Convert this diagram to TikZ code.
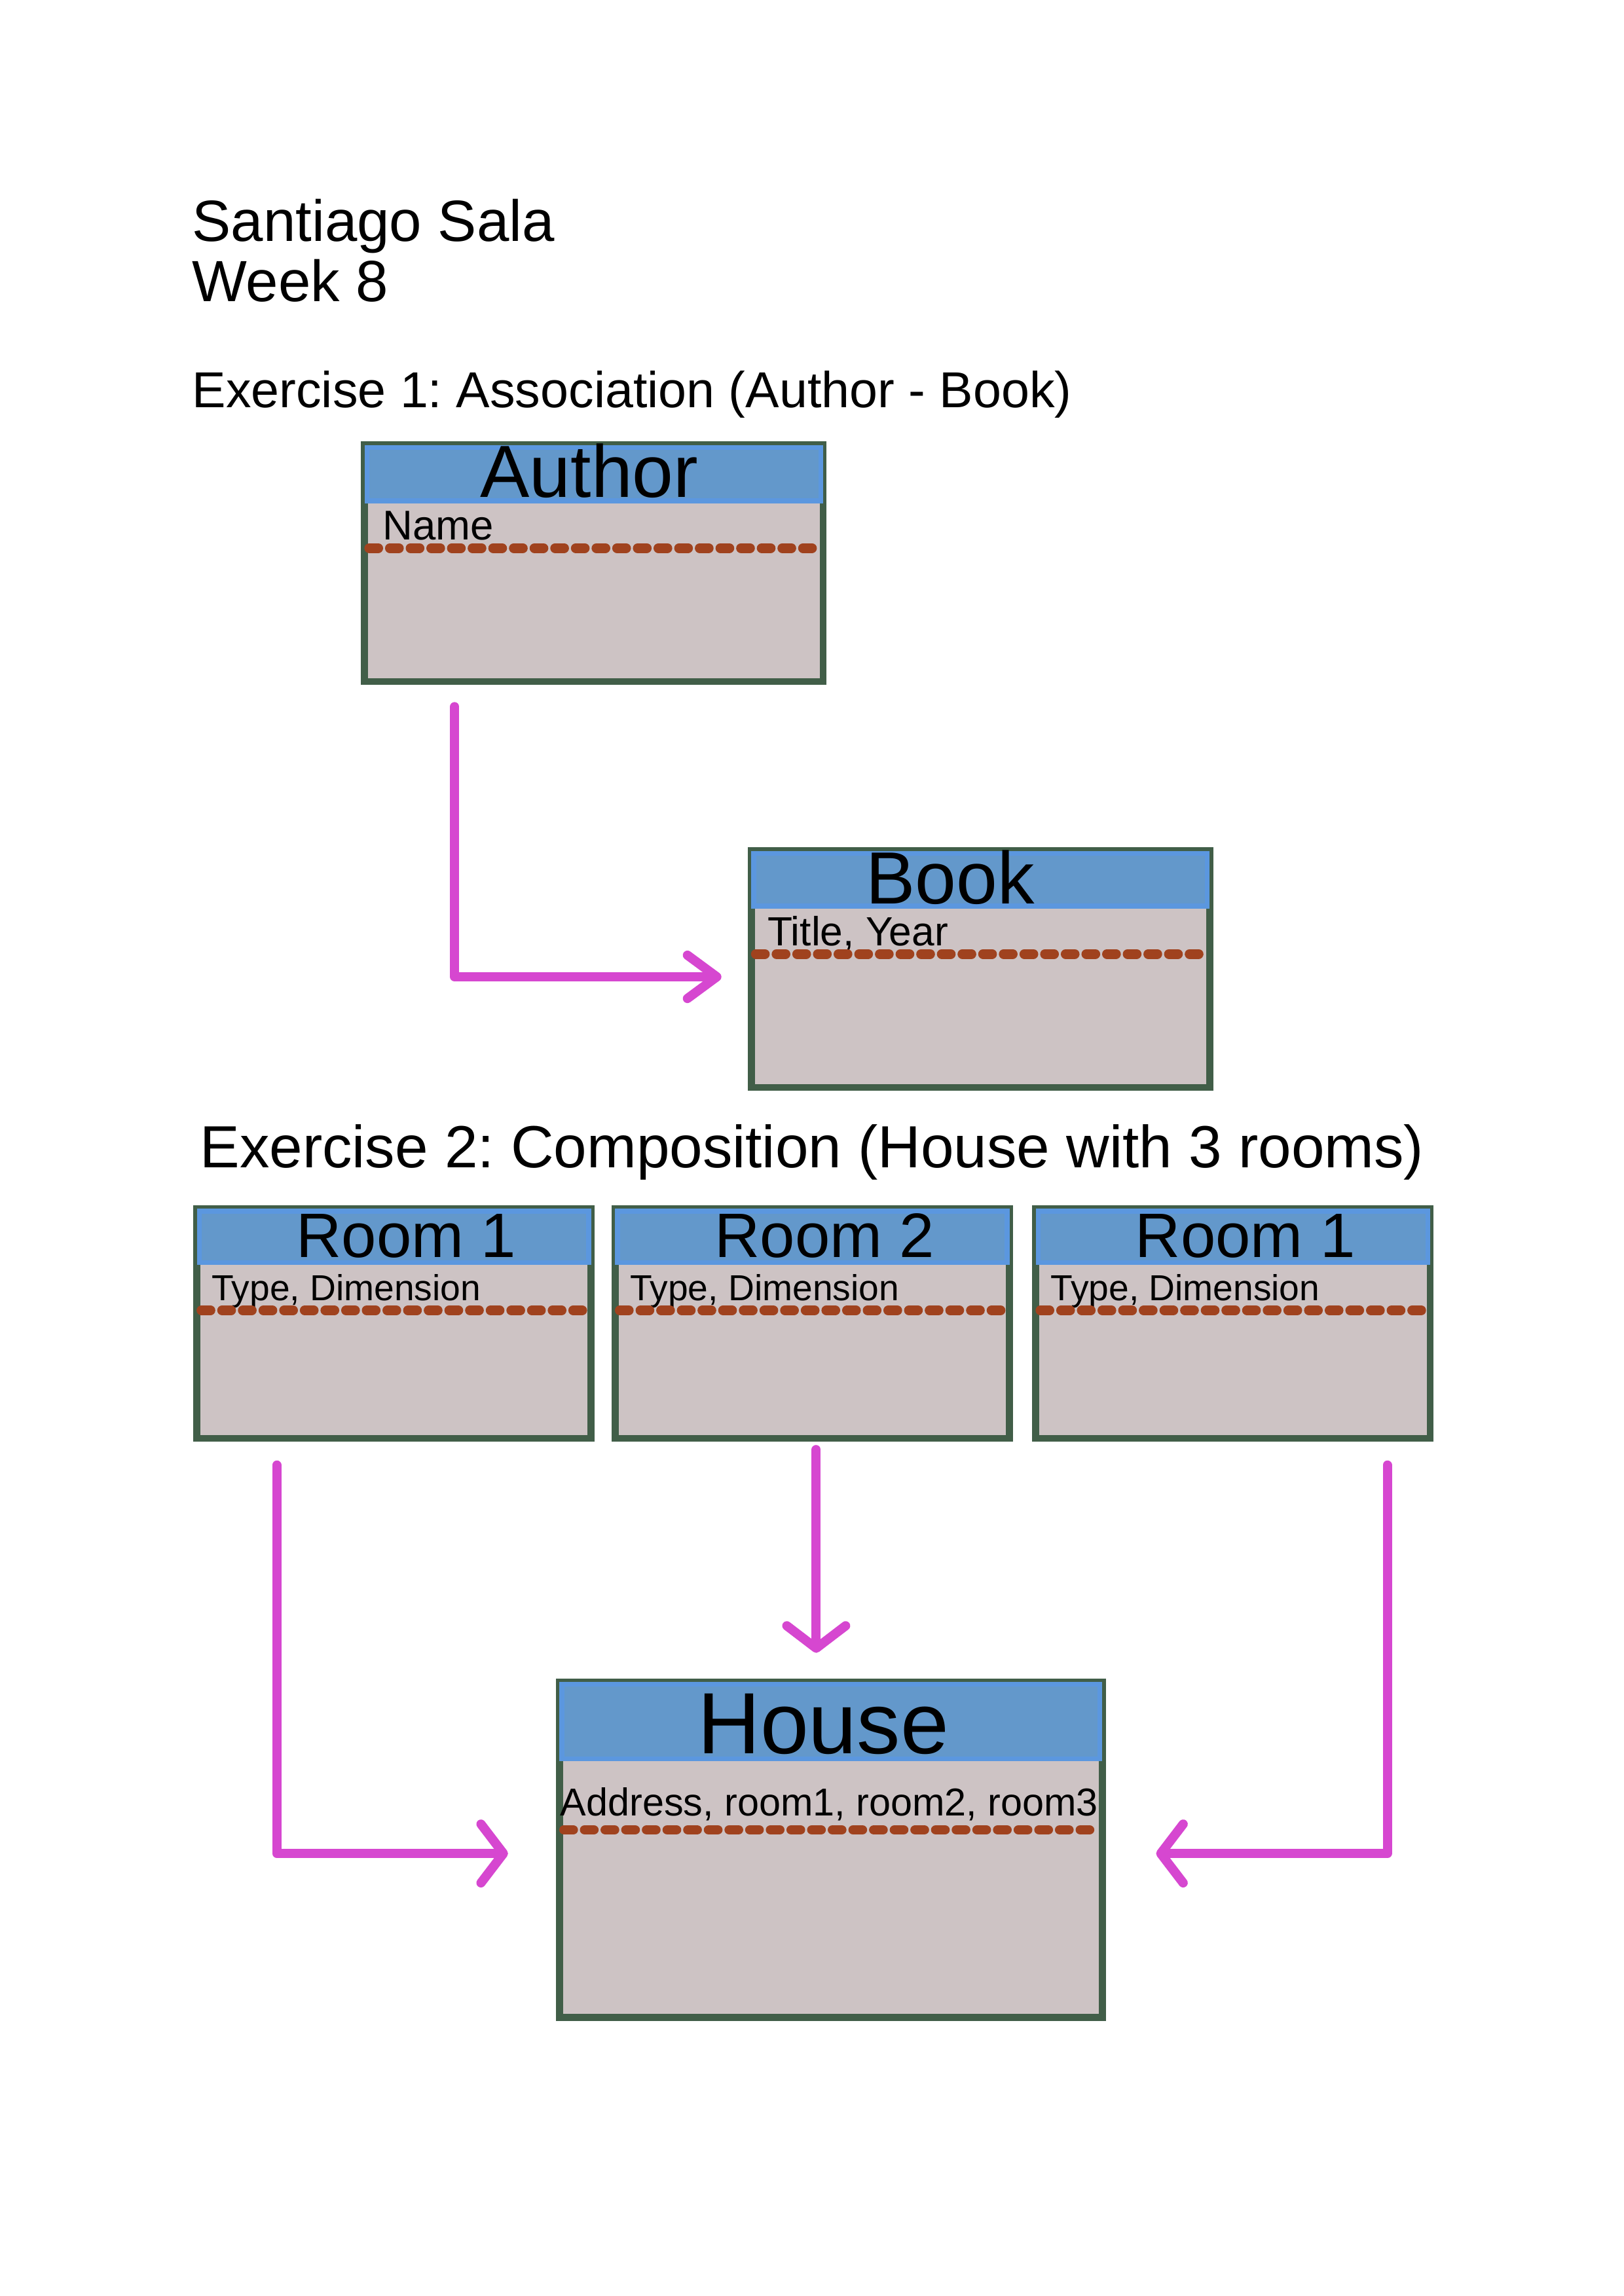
\documentclass[tikz,border=0pt]{standalone}
\usepackage{fontspec}
\setmainfont{Liberation Sans}
\frenchspacing
\usetikzlibrary{arrows.meta}
\definecolor{boxline}{RGB}{65,94,72}
\definecolor{headfill}{RGB}{99,152,203}
\definecolor{headedge}{RGB}{91,151,223}
\definecolor{bodyfill}{RGB}{205,195,196}
\definecolor{dashcol}{RGB}{160,66,30}
\definecolor{linkcol}{RGB}{214,71,208}

\begin{document}
\begin{tikzpicture}[
    txt/.style={inner sep=0pt},
    classbox/.style={draw=boxline, fill=bodyfill, line width=2.6pt, inner sep=0pt, anchor=north west},
    headbar/.style={fill=headfill, draw=headedge, line width=1.8pt},
    sepline/.style={draw=dashcol, line width=3.6pt, line cap=round, dash pattern=on 3.3pt off 4.3pt, shorten <=3pt, shorten >=3pt},
    link/.style={draw=linkcol, line width=3.4pt, line cap=round, line join=round, -{Straight Barb[length=2.9mm,width=7.6mm,round]}}]
    \useasboundingbox (0,0) rectangle (21,-29.7);

    \node[txt, anchor=base west, font=\fontsize{21.4}{22}\selectfont] (name) at (2.48,-3.12) {Santiago Sala};
    \node[txt, anchor=base west, font=\fontsize{21.4}{22}\selectfont] (week) at (2.48,-3.90) {Week 8};
    \node[txt, anchor=base west, font=\fontsize{18.6}{19}\selectfont] (ex1) at (2.48,-5.27) {Exercise 1: Association (Author - Book)};

    % Author
    \node[classbox, minimum width=5.93cm, minimum height=3.06cm] (author) at (4.67,-5.71) {};
    \draw[headbar] ([shift={(2.2pt,-2.2pt)}]author.north west) rectangle ([shift={(-2.2pt,-0.77cm)}]author.north east);
    \node[txt, anchor=base, font=\fontsize{27.2}{28}\selectfont] (authorT) at ([xshift=-0.06cm,yshift=-0.72cm]author.north) {Author};
    \node[txt, anchor=base west, font=\fontsize{15.3}{16}\selectfont] (authorA) at ([xshift=0.27cm,yshift=-1.27cm]author.north west) {Name};
    \draw[sepline] ([yshift=-1.38cm]author.north west) -- ([yshift=-1.38cm]author.north east);

    % Book
    \node[classbox, minimum width=5.93cm, minimum height=3.06cm] (book) at (9.67,-10.96) {};
    \draw[headbar] ([shift={(2.2pt,-2.2pt)}]book.north west) rectangle ([shift={(-2.2pt,-0.76cm)}]book.north east);
    \node[txt, anchor=base, font=\fontsize{27.2}{28}\selectfont] (bookT) at ([xshift=-0.39cm,yshift=-0.73cm]book.north) {Book};
    \node[txt, anchor=base west, font=\fontsize{15}{16}\selectfont] (bookA) at ([xshift=0.25cm,yshift=-1.27cm]book.north west) {Title, Year};
    \draw[sepline] ([yshift=-1.38cm]book.north west) -- ([yshift=-1.38cm]book.north east);

    \draw[link, -{Straight Barb[length=3.8mm,width=5.6mm,round]}] ([xshift=1.21cm,yshift=-0.28cm]author.south west) |- ([xshift=-0.34cm,yshift=-0.10cm]book.west);

    \node[txt, anchor=base west, font=\fontsize{21.9}{22}\selectfont] (ex2) at (2.58,-15.10) {Exercise 2: Composition (House with 3 rooms)};

    % Rooms
    \node[classbox, minimum width=5.10cm, minimum height=2.97cm] (room1) at (2.50,-15.59) {};
    \draw[headbar] ([shift={(2.2pt,-2.2pt)}]room1.north west) rectangle ([shift={(-2.2pt,-0.74cm)}]room1.north east);
    \node[txt, anchor=base, font=\fontsize{23.1}{24}\selectfont] (room1T) at ([xshift=0.16cm,yshift=-0.67cm]room1.north) {Room 1};
    \node[txt, anchor=base west, font=\fontsize{13.3}{14}\selectfont] (room1A) at ([xshift=0.23cm,yshift=-1.23cm]room1.north west) {Type, Dimension};
    \draw[sepline] ([yshift=-1.36cm]room1.north west) -- ([yshift=-1.36cm]room1.north east);

    \node[classbox, minimum width=5.10cm, minimum height=2.97cm] (room2) at (7.91,-15.59) {};
    \draw[headbar] ([shift={(2.2pt,-2.2pt)}]room2.north west) rectangle ([shift={(-2.2pt,-0.74cm)}]room2.north east);
    \node[txt, anchor=base, font=\fontsize{23.1}{24}\selectfont] (room2T) at ([xshift=0.16cm,yshift=-0.67cm]room2.north) {Room 2};
    \node[txt, anchor=base west, font=\fontsize{13.3}{14}\selectfont] (room2A) at ([xshift=0.23cm,yshift=-1.23cm]room2.north west) {Type, Dimension};
    \draw[sepline] ([yshift=-1.36cm]room2.north west) -- ([yshift=-1.36cm]room2.north east);

    \node[classbox, minimum width=5.10cm, minimum height=2.97cm] (room3) at (13.35,-15.59) {};
    \draw[headbar] ([shift={(2.2pt,-2.2pt)}]room3.north west) rectangle ([shift={(-2.2pt,-0.74cm)}]room3.north east);
    \node[txt, anchor=base, font=\fontsize{23.1}{24}\selectfont] (room3T) at ([xshift=0.16cm,yshift=-0.67cm]room3.north) {Room 1};
    \node[txt, anchor=base west, font=\fontsize{13.3}{14}\selectfont] (room3A) at ([xshift=0.23cm,yshift=-1.23cm]room3.north west) {Type, Dimension};
    \draw[sepline] ([yshift=-1.36cm]room3.north west) -- ([yshift=-1.36cm]room3.north east);

    % House
    \node[classbox, minimum width=7.02cm, minimum height=4.34cm] (house) at (7.19,-21.71) {};
    \draw[headbar] ([shift={(2.2pt,-2.2pt)}]house.north west) rectangle ([shift={(-2.2pt,-1.04cm)}]house.north east);
    \node[txt, anchor=base, font=\fontsize{32}{33}\selectfont] (houseT) at ([xshift=-0.10cm,yshift=-0.97cm]house.north) {House};
    \node[txt, anchor=base west, font=\fontsize{14.3}{15}\selectfont] (houseA) at ([xshift=0.05cm,yshift=-1.78cm]house.north west) {Address, room1, room2, room3};
    \draw[sepline] ([yshift=-1.96cm]house.north west) -- ([yshift=-1.96cm]house.north east);

    \draw[link] ([xshift=1.08cm,yshift=-0.30cm]room1.south west) |- ([xshift=-0.62cm,yshift=-0.05cm]house.west);
    \coordinate (r2) at ([xshift=0.05cm,yshift=-0.10cm]room2.south);
    \path (house.north -| r2) ++(0,0.33) coordinate (h2);
    \draw[link] (r2) -- (h2);
    \draw[link] ([xshift=-0.60cm,yshift=-0.30cm]room3.south east) |- ([xshift=0.65cm,yshift=-0.05cm]house.east);
\end{tikzpicture}
\end{document}
